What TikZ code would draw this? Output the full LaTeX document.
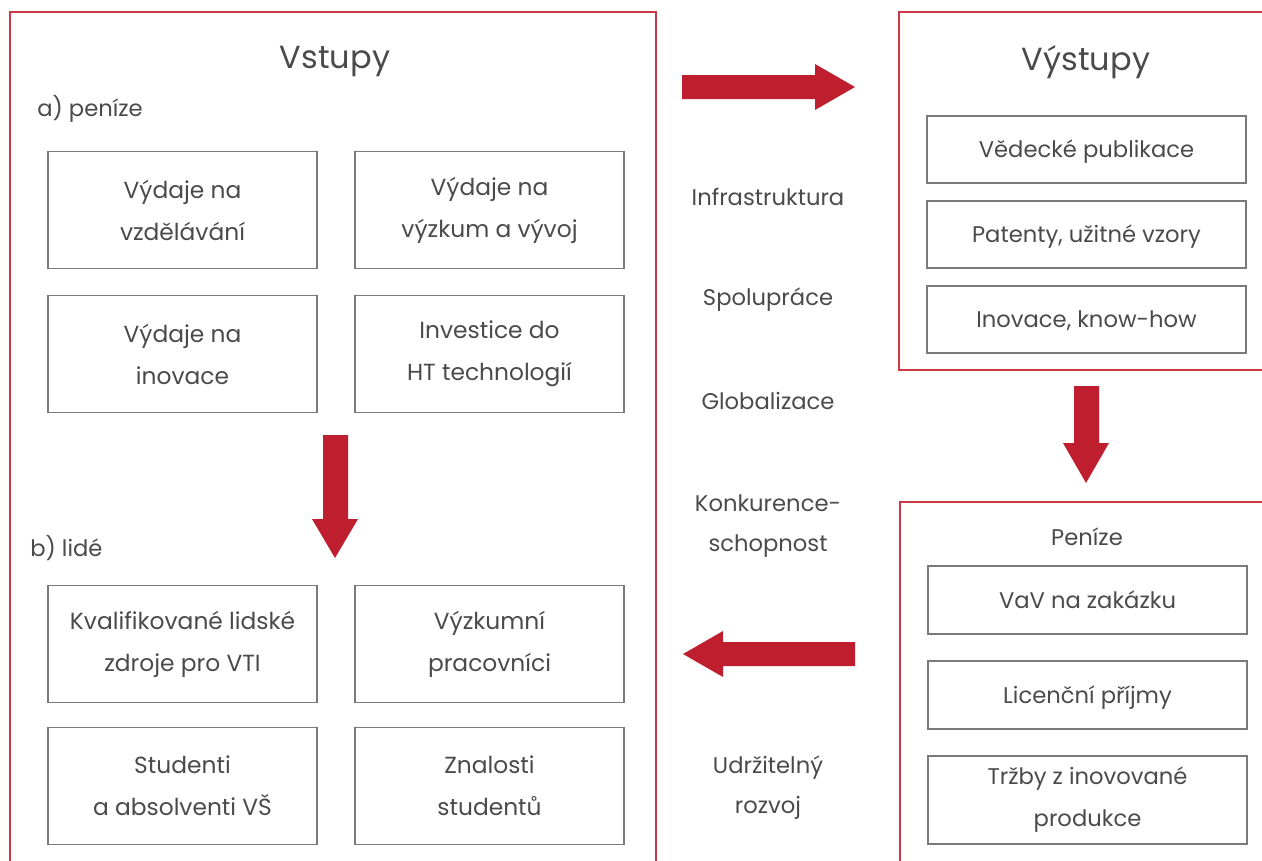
\documentclass[tikz,border=0pt]{standalone}
\usepackage{fontspec}
\setmainfont{Poppins}
\usetikzlibrary{positioning}
\definecolor{framered}{HTML}{C93A44}
\definecolor{arrowred}{HTML}{BE1E2D}
\definecolor{textgray}{HTML}{4A4A4A}
\definecolor{boxgray}{HTML}{7A7A7A}

\begin{document}
\begin{tikzpicture}[x=0.75pt,y=-0.75pt,
		frame/.style={draw=framered,line width=1.1pt},
		lbox/.style={rectangle,draw=boxgray,line width=0.9pt,outer sep=0pt,minimum width=201.75pt,minimum height=87.75pt,align=center,text=textgray,font=\fontsize{17.5}{31.5}\selectfont},
		rbox/.style={rectangle,draw=boxgray,line width=0.9pt,outer sep=0pt,minimum width=239.25pt,minimum height=50.25pt,text height=12pt,text depth=0pt,align=center,text=textgray,font=\fontsize{17}{30}\selectfont},
		label/.style={inner sep=0pt,align=center,text=textgray,font=\fontsize{17}{30}\selectfont},
		heading/.style={inner sep=0pt,text=textgray,font=\fontsize{24}{28}\selectfont},
		bigarrow/.style={fill=arrowred}]
		\useasboundingbox (0,0) rectangle (1262,860);
		% frames
		\draw[frame] (10,870) -- (10,12) -- (656,12) -- (656,870);
		\draw[frame] (1272,370) -- (899,370) -- (899,12) -- (1272,12);
		\draw[frame] (1272,502) -- (900,502) -- (900,870);
		% inputs
		\node[heading] (vstupy) at (335,62) {Vstupy};
		\node[label,anchor=west] (penize_a) at (37,109) {a) peníze};
		\node[lbox] (vzdel) at (182.5,210) {Výdaje na\\vzdělávání};
		\node[lbox] (vyzkum)[right = 28.5pt of vzdel] {Výdaje na\\výzkum a vývoj};
		\node[lbox] (inov)[below = 20.25pt of vzdel] {Výdaje na\\inovace};
		\node[lbox] (htech)[right = 28.5pt of inov] {Investice do\\HT technologií};
		\node[label,anchor=west] (lide) at (30,548) {b) lidé};
		\node[lbox] (kvalif) at (182.5,644) {Kvalifikované lidské\\zdroje pro VTI};
		\node[lbox] (vyzkpr)[right = 28.5pt of kvalif] {Výzkumní\\pracovníci};
		\node[lbox] (stud)[below = 18.75pt of kvalif] {Studenti\\a absolventi VŠ};
		\node[lbox] (znal)[right = 28.5pt of stud] {Znalosti\\studentů};
		% middle
		\node[label] (infra) at (768,197) {Infrastruktura};
		\node[label] (spoluprace) at (768,300) {Spolupráce};
		\node[label] (global) at (768,401) {Globalizace};
		\node[label] (konk) at (768,526) {Konkurence-\\schopnost};
		\node[label] (udrz) at (768,788) {Udržitelný\\rozvoj};
		% outputs
		\node[heading] (vystupy) at (1086,62) {Výstupy};
		\node[rbox] (publ) at (1086.5,149.5) {Vědecké publikace};
		\node[rbox] (patent)[below = 13.5pt of publ] {Patenty, užitné vzory};
		\node[rbox] (knowhow)[below = 13.5pt of patent] {Inovace, know-how};
		\node[label] (penize) at (1087,537) {Peníze};
		\node[rbox,minimum height=51pt] (vav) at (1087.5,600) {VaV na zakázku};
		\node[rbox,minimum height=51pt] (licence)[below = 20.25pt of vav] {Licenční příjmy};
		\node[rbox,minimum height=66pt,text height=,text depth=,font=\fontsize{17}{31.5}\selectfont] (trzby)[below = 20.25pt of licence] {Tržby z inovované\\produkce};
		% arrows
		\fill[bigarrow] (682,75) -- (815,75) -- (815,64) -- (855,87) -- (815,110) -- (815,99) -- (682,99) -- cycle;
		\fill[bigarrow] (1074,386) -- (1099,386) -- (1099,443) -- (1109,443) -- (1086,483) -- (1063,443) -- (1074,443) -- cycle;
		\fill[bigarrow] (855,642) -- (723,642) -- (723,631) -- (683,654) -- (723,677) -- (723,666) -- (855,666) -- cycle;
		\fill[bigarrow] (323,435) -- (348,435) -- (348,519) -- (358,519) -- (335,558) -- (312,519) -- (323,519) -- cycle;
	\end{tikzpicture}
\end{document}
